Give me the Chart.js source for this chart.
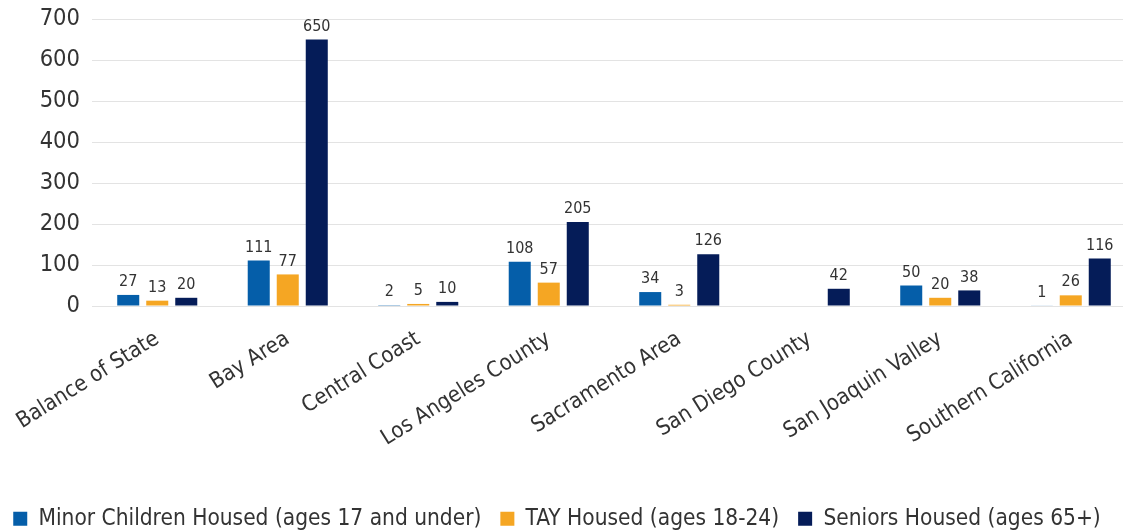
<!DOCTYPE html>
<html>
<head>
<meta charset="utf-8">
<script src="https://cdn.jsdelivr.net/npm/chart.js@4.4.0/dist/chart.umd.min.js"></script>
<style>
  html, body { margin: 0; padding: 0; background: #ffffff; overflow: hidden; width: 1123px; height: 531px; }
  #wrap { position: absolute; left: 0; top: 0; width: 1136px; height: 531px; }
</style>
</head>
<body>
<div id="wrap"><canvas id="c"></canvas></div>
<script>
const categories = ["Balance of State", "Bay Area", "Central Coast", "Los Angeles County", "Sacramento Area", "San Diego County", "San Joaquin Valley", "Southern California"];
const minorChildren = [27, 111, 2, 108, 34, null, 50, 1];
const tayHoused = [13, 77, 5, 57, 3, null, 20, 26];
const seniorsHoused = [20, 650, 10, 205, 126, 42, 38, 116];
const seriesNames = ["Minor Children Housed (ages 17 and under)", "TAY Housed (ages 18-24)", "Seniors Housed (ages 65+)"];
const yTicks = [0, 100, 200, 300, 400, 500, 600, 700];

const FONT = "'DejaVu Sans Condensed', 'Liberation Sans Narrow', 'Arial Narrow', sans-serif";
const TEXT = "#333333";
const PLOT_BOTTOM = 306;

const valueLabels = {
  id: 'valueLabels',
  afterDatasetsDraw(chart) {
    const ctx = chart.ctx;
    ctx.save();
    ctx.font = "16px " + FONT;
    ctx.fillStyle = TEXT;
    ctx.textAlign = 'center';
    ctx.textBaseline = 'bottom';
    chart.data.datasets.forEach((ds, i) => {
      const meta = chart.getDatasetMeta(i);
      meta.data.forEach((el, j) => {
        const v = ds.data[j];
        if (v === null || v === undefined) return;
        ctx.fillText(String(v), el.x, el.y - 5);
      });
    });
    ctx.restore();
  }
};

const legendShift = {
  id: 'legendShift',
  afterLayout(chart) {
    const lg = chart.legend;
    if (lg) {
      lg.left -= 11;
      lg.right -= 11;
      const h = lg.bottom - lg.top;
      lg.bottom = chart.height + 9;
      lg.top = lg.bottom - h;
    }
  }
};

new Chart(document.getElementById('c'), {
  type: 'bar',
  data: {
    labels: categories,
    datasets: [
      { label: seriesNames[0], data: minorChildren, backgroundColor: '#055EA9', borderWidth: 0 },
      { label: seriesNames[1], data: tayHoused, backgroundColor: '#F5A623', borderWidth: 0 },
      { label: seriesNames[2], data: seniorsHoused, backgroundColor: '#051C58', borderWidth: 0 }
    ]
  },
  options: {
    responsive: true,
    maintainAspectRatio: false,
    animation: false,
    categoryPercentage: 0.667,
    barPercentage: 0.759,
    layout: { padding: { top: 19, left: 0, right: 0, bottom: 0 } },
    plugins: {
      legend: {
        position: 'bottom',
        labels: {
          boxWidth: 14,
          boxHeight: 14,
          padding: 19,
          color: TEXT,
          font: { family: FONT, size: 22.5 }
        }
      },
      tooltip: { enabled: false }
    },
    scales: {
      x: {
        grid: { display: false, drawTicks: false },
        border: { display: false },
        afterFit(axis) {
          const lgH = axis.chart.legend ? axis.chart.legend.height : 0;
          axis.height = axis.chart.height - lgH - PLOT_BOTTOM;
          axis.paddingLeft = 0;
          axis.paddingRight = 0;
        },
        ticks: {
          color: TEXT,
          font: { family: FONT, size: 22 },
          minRotation: 32,
          maxRotation: 32,
          autoSkip: false,
          padding: 20
        }
      },
      y: {
        min: 0,
        max: 700,
        afterBuildTicks(axis) { axis.ticks = yTicks.map(v => ({ value: v })); },
        afterFit(axis) { axis.width = 92; axis.paddingTop = 0; axis.paddingBottom = 0; },
        grid: { color: '#e3e3e3', lineWidth: 1, drawTicks: false },
        border: { display: false },
        ticks: {
          color: TEXT,
          font: { family: FONT, size: 23.5 },
          padding: 12
        }
      }
    }
  },
  plugins: [valueLabels, legendShift]
});
</script>
</body>
</html>
